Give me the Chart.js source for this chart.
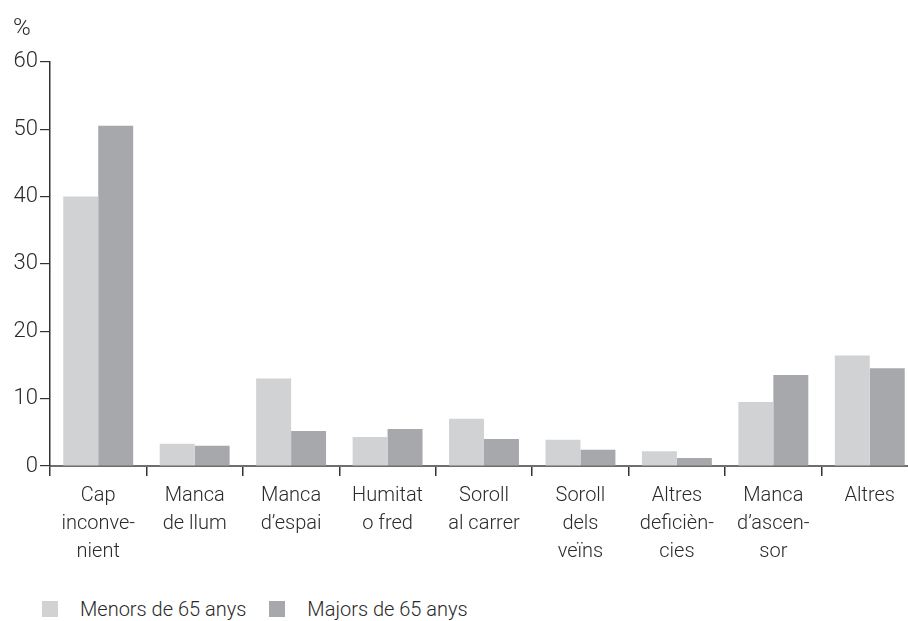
<!DOCTYPE html>
<html>
<head>
<meta charset="utf-8">
<script src="https://cdn.jsdelivr.net/npm/chart.js@4.4.0/dist/chart.umd.min.js"></script>
<style>
  body { margin: 0; background: #fff; font-family: Roboto, "Liberation Sans", Arial, sans-serif; font-weight: 300; }
  .wrap { position: relative; width: 908px; height: 621px; overflow: hidden; }
  #chart { position: absolute; left: 0; top: 0; }
  .legend { position: absolute; top: 594px; left: 42px; font-size: 20px; color: #2a2a2a; }
  .legend span { display: inline-block; vertical-align: middle; }
  .sw { width: 16px; height: 16px; margin-right: 22px; }
  .item { margin-right: 23px; }
</style>
</head>
<body>
<div class="wrap">
  <canvas id="chart" width="918" height="582"></canvas>
  <div class="legend" id="legend"></div>
</div>
<script>
// categories (multi-line labels as in the print)
const categories = [
    ['Cap', 'inconve-', 'nient'],
    ['Manca', 'de llum'],
    ['Manca', 'd\u2019espai'],
    ['Humitat', 'o fred'],
    ['Soroll', 'al carrer'],
    ['Soroll', 'dels', 've\u00efns'],
    ['Altres', 'defici\u00e8n-', 'cies'],
    ['Manca', 'd\u2019ascen-', 'sor'],
    ['Altres']
];
const seriesNames = ['Menors de 65 anys', 'Majors de 65 anys'];
const menors = [40.0, 3.3, 13.0, 4.3, 7.0, 3.9, 2.2, 9.5, 16.4];
const majors = [50.5, 3.0, 5.2, 5.5, 4.0, 2.4, 1.2, 13.5, 14.5];
const yTicks = [0, 10, 20, 30, 40, 50, 60];

const colors = ['#d1d2d4', '#a7a8ac'];
const textColor = '#2a2a2a';
const font = "Roboto, 'Liberation Sans', Arial, sans-serif";

new Chart(document.getElementById('chart'), {
    type: 'bar',
    data: {
        labels: categories,
        datasets: [
            { label: seriesNames[0], data: menors, backgroundColor: colors[0] },
            { label: seriesNames[1], data: majors, backgroundColor: colors[1] }
        ]
    },
    options: {
        responsive: false,
        devicePixelRatio: 1,
        animation: false,
        layout: { padding: { left: 13, right: 0, top: 0, bottom: 0 } },
        datasets: { bar: { categoryPercentage: 0.725, barPercentage: 1.0 } },
        plugins: {
            legend: { display: false },
            tooltip: { enabled: false },
            title: {
                display: true, text: '%', align: 'start', color: textColor,
                font: { family: font, size: 24, weight: 300 },
                padding: { top: 15, bottom: 18 }
            }
        },
        scales: {
            x: {
                offset: true,
                grid: { display: true, drawOnChartArea: false, drawTicks: true, tickLength: 10, color: '#333', lineWidth: 1.5, offset: true },
                border: { display: true, color: '#6e6e6e', width: 2 },
                ticks: { color: textColor, font: { family: font, size: 20, weight: 300, lineHeight: 1.4 }, padding: 6, maxRotation: 0, autoSkip: false },
                afterFit: s => { s.height = 116; }
            },
            y: {
                min: 0, max: 60,
                afterBuildTicks: s => { s.ticks = yTicks.map(v => ({ value: v })); },
                grid: { display: true, drawOnChartArea: false, drawTicks: true, tickLength: 10, color: '#333', lineWidth: 1.2 },
                border: { display: true, color: '#333', width: 1.5 },
                ticks: { color: textColor, font: { family: font, size: 22, weight: 300 }, padding: 2 },
                afterFit: s => { s.width = 37; }
            }
        }
    }
});

// legend
const lg = document.getElementById('legend');
seriesNames.forEach((n, i) => {
    const it = document.createElement('span');
    it.className = 'item';
    it.innerHTML = '<span class="sw" style="background:' + colors[i] + '"></span><span>' + n + '</span>';
    lg.appendChild(it);
});
</script>
</body>
</html>
